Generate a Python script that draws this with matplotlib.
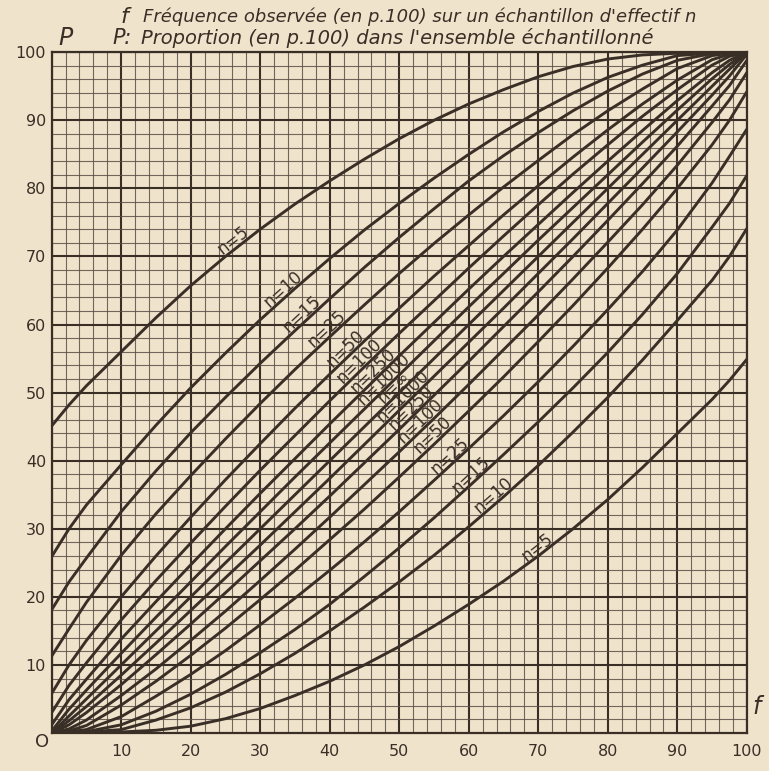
import numpy as np
import matplotlib
matplotlib.use("Agg")
import matplotlib.pyplot as plt

# ---------------- data ----------------
f_obs = [0, 2.5, 5, 10, 15, 20, 25, 30, 35, 40, 45, 50, 55, 60, 65, 70, 75, 80, 85, 90, 95, 97.5, 100]
sizes = ["5", "10", "15", "25", "50", "100", "250", "1000"]

upper = {
    "5":    [45.1, 48.2, 51.0, 56.0, 61.0, 65.7, 70.0, 74.0, 77.7, 81.1, 84.3, 87.3, 90.0, 92.4, 94.5, 96.4, 97.9, 99.0, 99.6, 99.85, 99.97, 99.99, 100],
    "10":   [25.9, 30.0, 33.5, 39.4, 45.2, 50.7, 55.8, 60.7, 65.3, 69.7, 73.9, 77.8, 81.5, 85.0, 88.3, 91.3, 94.0, 96.3, 98.1, 99.5, 99.87, 99.96, 100],
    "15":   [18.1, 22.2, 25.7, 32.5, 38.5, 44.1, 49.3, 54.3, 59.1, 63.8, 68.4, 72.8, 77.0, 81.1, 84.8, 88.2, 91.4, 94.3, 96.8, 98.8, 99.8, 99.93, 100],
    "25":   [11.3, 15.3, 19.2, 26.1, 32.2, 37.8, 43.2, 48.4, 53.4, 58.2, 62.9, 67.5, 71.9, 76.1, 80.2, 84.1, 87.9, 91.4, 94.6, 97.6, 99.5, 99.85, 100],
    "50":   [5.8, 10.0, 13.6, 20.0, 26.0, 31.7, 37.2, 42.5, 47.7, 52.7, 57.6, 62.4, 67.1, 71.6, 76.1, 80.4, 84.6, 88.6, 92.4, 95.9, 98.9, 99.7, 100],
    "100":  [3.0, 7.0, 10.3, 16.6, 22.4, 27.9, 33.3, 38.6, 43.7, 48.8, 53.8, 58.7, 63.5, 68.3, 73.0, 77.6, 82.1, 86.4, 90.6, 94.5, 98.1, 99.4, 100],
    "250":  [1.2, 4.9, 7.9, 13.8, 19.3, 24.7, 30.0, 35.2, 40.3, 45.4, 50.4, 55.4, 60.3, 65.2, 70.0, 74.7, 79.4, 84.0, 88.5, 92.9, 97.0, 98.8, 100],
    "1000": [0.3, 3.5, 6.3, 11.7, 17.0, 22.2, 27.4, 32.5, 37.6, 42.6, 47.6, 52.6, 57.6, 62.6, 67.5, 72.4, 77.2, 82.0, 86.8, 91.5, 96.1, 98.2, 100],
}
lower = {
    "5":    [0, 0.01, 0.03, 0.15, 0.4, 1.0, 2.1, 3.6, 5.5, 7.6, 10.0, 12.7, 15.7, 18.9, 22.3, 26.0, 30.0, 34.3, 39.0, 44.0, 49.0, 51.8, 54.9],
    "10":   [0, 0.04, 0.13, 0.5, 1.9, 3.7, 6.0, 8.7, 11.7, 15.0, 18.5, 22.2, 26.1, 30.3, 34.7, 39.3, 44.2, 49.3, 54.8, 60.6, 66.5, 70.0, 74.1],
    "15":   [0, 0.07, 0.2, 1.2, 3.2, 5.7, 8.6, 11.8, 15.2, 18.9, 23.0, 27.2, 31.6, 36.2, 40.9, 45.7, 50.7, 55.9, 61.5, 67.5, 74.3, 77.8, 81.9],
    "25":   [0, 0.15, 0.5, 2.4, 5.4, 8.6, 12.1, 15.9, 19.8, 23.9, 28.1, 32.5, 37.1, 41.8, 46.6, 51.6, 56.8, 62.2, 67.8, 73.9, 80.8, 84.7, 88.7],
    "50":   [0, 0.3, 1.1, 4.1, 7.6, 11.4, 15.4, 19.6, 23.9, 28.4, 32.9, 37.6, 42.4, 47.3, 52.3, 57.5, 62.8, 68.3, 74.0, 80.0, 86.4, 90.0, 94.2],
    "100":  [0, 0.6, 1.9, 5.5, 9.4, 13.6, 17.9, 22.4, 27.0, 31.7, 36.5, 41.3, 46.2, 51.2, 56.3, 61.4, 66.7, 72.1, 77.6, 83.4, 89.7, 93.0, 97.0],
    "250":  [0, 1.2, 3.0, 7.1, 11.5, 16.0, 20.6, 25.3, 30.0, 34.8, 39.7, 44.6, 49.6, 54.6, 59.7, 64.8, 70.0, 75.3, 80.7, 86.2, 92.1, 95.1, 98.8],
    "1000": [0, 1.8, 3.9, 8.5, 13.2, 18.0, 22.8, 27.6, 32.5, 37.4, 42.4, 47.4, 52.4, 57.4, 62.4, 67.5, 72.6, 77.8, 83.0, 88.3, 93.7, 96.5, 99.7],
}
infinite = [0, 2.5, 5, 10, 15, 20, 25, 30, 35, 40, 45, 50, 55, 60, 65, 70, 75, 80, 85, 90, 95, 97.5, 100]  # n = infinity: P = f

tick_vals = [10, 20, 30, 40, 50, 60, 70, 80, 90, 100]

# label placement (f position along each curve) - layout only
upper_label_f = {"5": 26.8, "10": 34.0, "15": 36.7, "25": 40.3, "50": 43.0,
                 "100": 45.0, "250": 47.0, "1000": 48.6}
lower_label_f = {"1000": 51.3, "250": 52.4, "100": 53.8, "50": 55.6,
                 "25": 58.0, "15": 61.0, "10": 64.3, "5": 70.5}
inf_label_f = 50.0

# ---------------- style ----------------
paper = "#efe3cb"
ink = "#3a2f27"
grid_ink = "#5b5047"

fig = plt.figure(figsize=(7.69, 7.71), dpi=100, facecolor=paper)
ax = fig.add_axes([0.0672, 0.0493, 0.904, 0.883])
ax.set_facecolor(paper)
ax.set_xlim(0, 100)
ax.set_ylim(0, 100)

ax.set_xticks(tick_vals)
ax.set_yticks(tick_vals)
ax.set_xticks(np.arange(0, 101, 2), minor=True)
ax.set_yticks(np.arange(0, 101, 2), minor=True)
ax.grid(which="minor", color=grid_ink, lw=0.8, alpha=0.85)
ax.grid(which="major", color=ink, lw=1.5)
ax.set_axisbelow(True)
ax.tick_params(which="both", length=0)
ax.tick_params(axis="x", pad=8, labelsize=11.5, labelcolor=ink)
ax.tick_params(axis="y", pad=4, labelsize=11.5, labelcolor=ink)
for s in ax.spines.values():
    s.set_color(ink)
    s.set_linewidth(1.6)

# curves
for n in sizes:
    ax.plot(f_obs, upper[n], color=ink, lw=2.1, solid_capstyle="round", zorder=3)
    ax.plot(f_obs, lower[n], color=ink, lw=2.1, solid_capstyle="round", zorder=3)
ax.plot(f_obs, infinite, color=ink, lw=2.1, zorder=3)


def put_label(text, fx, xs, ys):
    py = np.interp(fx, xs, ys)
    p0 = ax.transData.transform((fx - 1.5, np.interp(fx - 1.5, xs, ys)))
    p1 = ax.transData.transform((fx + 1.5, np.interp(fx + 1.5, xs, ys)))
    ang = np.degrees(np.arctan2(p1[1] - p0[1], p1[0] - p0[0]))
    d = 5.5
    off = (-np.sin(np.radians(ang)) * d, np.cos(np.radians(ang)) * d)
    ax.annotate(text, xy=(fx, py), xytext=off, textcoords="offset points",
                rotation=ang, rotation_mode="anchor", ha="center", va="center",
                fontsize=12, color=ink, zorder=4)


for n in sizes:
    put_label("n=" + n, upper_label_f[n], f_obs, upper[n])
    put_label("n=" + n, lower_label_f[n], f_obs, lower[n])
put_label("n=\u221e", inf_label_f, f_obs, infinite)

# axis letters and header
fig.text(0.055, 0.038, "O", fontsize=13, color=ink, ha="center", va="center")
fig.text(0.085, 0.951, "P", fontsize=17, style="italic", color=ink, ha="center", va="center")
fig.text(0.984, 0.083, "f", fontsize=17, style="italic", color=ink, ha="center", va="center")
fig.text(0.157, 0.978, "f", fontsize=16, style="italic", color=ink, ha="left", va="center")
fig.text(0.186, 0.978, "Fréquence observée (en p.100) sur un échantillon d'effectif n",
         fontsize=13, style="italic", color=ink, ha="left", va="center")
fig.text(0.146, 0.951, "P:", fontsize=15, style="italic", color=ink, ha="left", va="center")
fig.text(0.184, 0.951, "Proportion (en p.100) dans l'ensemble échantillonné",
         fontsize=14, style="italic", color=ink, ha="left", va="center")

fig.savefig("out.png", dpi=100, facecolor=paper)
